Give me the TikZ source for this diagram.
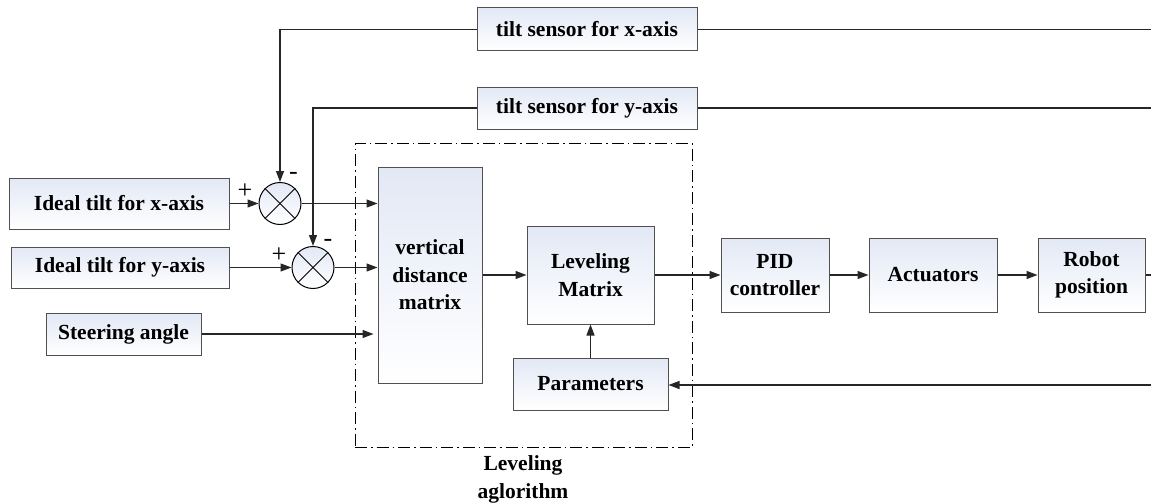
\documentclass[tikz,border=0pt]{standalone}
\usepackage{fontspec}
\setmainfont{Liberation Serif}
\usetikzlibrary{arrows.meta,calc}
\definecolor{boxtop}{RGB}{226,232,245}
\definecolor{boxline}{RGB}{80,80,80}
\begin{document}
\begin{tikzpicture}[x=1pt,y=-1pt,
  blk/.style={draw=boxline,line width=1pt,top color=boxtop,bottom color=white,
    rectangle,inner sep=0pt,align=center,
    font=\fontsize{21.5}{27.5}\selectfont\bfseries},
  sumj/.style={draw=black,line width=1pt,circle,minimum size=42pt,inner sep=0pt,
    top color=boxtop,bottom color=white},
  conn/.style={line width=1.2pt,draw=black!85},
  arr/.style={conn,-{Triangle[length=11pt,width=8pt]}},
  sgn/.style={font=\fontsize{26}{26}\selectfont,inner sep=0pt}
]
\useasboundingbox (0,0) rectangle (1151,503);

% blocks
\node[blk,minimum width=220pt,minimum height=43pt] (tx) at (587,29.5) {tilt sensor for x-axis};
\node[blk,minimum width=220pt,minimum height=42pt] (ty) at (587,108) {tilt sensor for y-axis};
\node[blk,minimum width=220pt,minimum height=51pt] (ix) at (119,203.5) {Ideal tilt for x-axis};
\node[blk,minimum width=218pt,minimum height=41pt] (iy) at (120,267.5) {Ideal tilt for y-axis};
\node[blk,minimum width=155pt,minimum height=42pt] (st) at (123.5,334) {Steering angle};
\node[blk,minimum width=104pt,minimum height=216pt] (vdm) at (430,275) {vertical\\distance\\matrix};
\node[blk,minimum width=127pt,minimum height=98pt] (lm) at (590.5,275) {Leveling\\Matrix};
\node[blk,minimum width=155pt,minimum height=52pt] (par) at (590.5,384) {Parameters};
\node[blk,minimum width=108pt,minimum height=74pt] (pid) at (775,275) {PID\\controller};
\node[blk,minimum width=128pt,minimum height=74pt] (act) at (933,275) {Actuators};
\node[blk,minimum width=107pt,minimum height=74pt] (rob) at (1091.5,275) {Robot\\position};

% summing junctions
\node[sumj] (s1) at (280,203.5) {};
\node[sumj] (s2) at (313,267.5) {};
\foreach \s in {s1,s2}{
  \draw[line width=0.8pt] (\s.45) -- (\s.225);
  \draw[line width=0.8pt] (\s.135) -- (\s.315);
}
\node[sgn] (p1) at (245,191) {+};
\node[sgn] (m1) at (293.5,176) {-};
\node[sgn] (p2) at (279,255) {+};
\node[sgn] (m2) at (328,243) {-};

% dash-dot frame
\node[draw=black,line width=1pt,dash pattern=on 12pt off 4pt on 1.5pt off 4pt,
  minimum width=337pt,minimum height=304pt,inner sep=0pt] (frame) at (523.5,295) {};
\node[font=\fontsize{21.5}{28}\selectfont\bfseries,align=center] (lbl) at (523,479) {Leveling\\aglorithm};

% free ends at right edge
\coordinate (ex) at (1151,29.5);
\coordinate (ey) at (1151,108);
\coordinate (er) at (1151,275);
\coordinate (ef) at (1151,385);

% connectors
\draw[arr] (tx.west) -| (s1.north);
\draw[arr] (ty.west) -| (s2.north);
\draw[conn] (tx.east) -- (ex);
\draw[conn] (ty.east) -- (ey);
\draw[arr] (ix.east) -- (s1.west);
\draw[arr] (iy.east) -- (s2.west);
\draw[arr] (s1.east) -- (vdm.west |- s1.east);
\draw[arr] (s2.east) -- (vdm.west |- s2.east);
\draw[arr] (st.east) -- ([xshift=-4pt]vdm.west |- st.east);
\draw[arr] (vdm.east) -- (lm.west);
\draw[arr] (lm.east) -- (pid.west);
\draw[arr] (pid.east) -- (act.west);
\draw[arr] (act.east) -- (rob.west);
\draw[conn] (rob.east) -- (er);
\draw[arr] (ef) -- (par.east |- ef);
\draw[arr] (par.north) -- (lm.south);
\end{tikzpicture}
\end{document}
